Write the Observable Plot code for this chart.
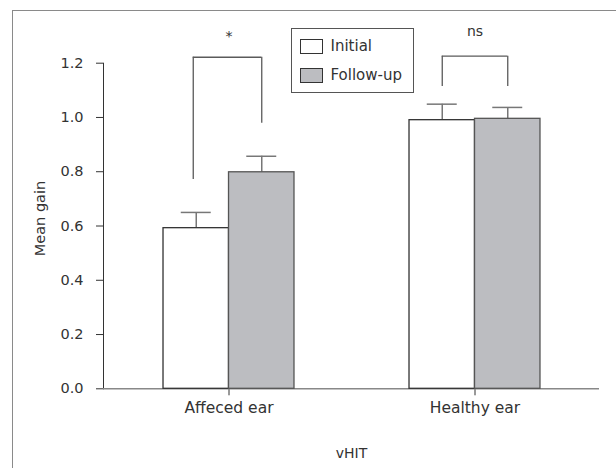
<!DOCTYPE html>
<html>
<head>
<meta charset="utf-8">
<script src="https://cdn.jsdelivr.net/npm/d3@7"></script>
<script src="https://cdn.jsdelivr.net/npm/@observablehq/plot@0.6"></script>
<style>
  html, body { margin: 0; padding: 0; background: #fff; }
  #wrap { position: relative; width: 616px; height: 468px; overflow: hidden; font-family: "DejaVu Sans", sans-serif; color: #333; }
  #frame { position: absolute; left: 12px; top: 10px; right: -2px; bottom: -2px; border-top: 1.5px solid #8a8a8a; border-left: 1.5px solid #8a8a8a; pointer-events: none; }
  #legend { position: absolute; left: 291px; top: 28px; width: 122.5px; height: 65px; box-sizing: border-box; border: 1.5px solid #555; background: #fff; font-size: 15px; color: #333; }
  .item { position: absolute; left: 7.5px; height: 15px; line-height: 15px; display: flex; align-items: center; white-space: nowrap; }
  .sw { width: 23px; height: 15px; border: 1.2px solid #333; margin-right: 8px; box-sizing: border-box; }
  g[aria-label="x-axis tick label"] text { font-size: 15.5px; }
  g[aria-label="y-axis tick label"] text { font-size: 14.5px; }
</style>
</head>
<body>
<div id="wrap"><div id="frame"></div></div>
<script>
// ---- data ----
const groups = ["Affeced ear", "Healthy ear"];
const series = ["Initial", "Follow-up"];
const seriesFill = ["#ffffff", "#bcbdc1"];
const initialMean = [0.592, 0.990];
const initialErr  = [0.058, 0.059];
const followMean  = [0.798, 0.995];
const followErr   = [0.059, 0.042];
const sigLabels   = ["*", "ns"];
const sigLabelY   = [1.300, 1.317];
const bracketTop  = [1.222, 1.226];
const bracketLeftBottom  = [0.771, 1.114];
const bracketRightBottom = [0.979, 1.114];
const yTicks = [0, 0.2, 0.4, 0.6, 0.8, 1.0, 1.2];
const xTitle = "vHIT";
const yTitle = "Mean gain";

// ---- layout ----
const W = 616, H = 468, ml = 103, mr = 17, mt = 62.7, mb = 79.7;
const pi = 0.2, po = 0.107;
const step = (W - ml - mr) / (groups.length - pi + 2 * po);
const bw = step * (1 - pi);
const barW = 65.5, capW = 30;

const initial = groups.map((g, i) => ({group: g, mean: initialMean[i], hi: initialMean[i] + initialErr[i]}));
const follow  = groups.map((g, i) => ({group: g, mean: followMean[i], hi: followMean[i] + followErr[i]}));
const sig = groups.map((g, i) => ({group: g, label: sigLabels[i], ly: sigLabelY[i], top: bracketTop[i], lb: bracketLeftBottom[i], rb: bracketRightBottom[i]}));

const errColor = "#777", barStroke = "#333", brColor = "#5a5a5a";

const plot = Plot.plot({
  width: W, height: H,
  marginLeft: ml, marginRight: mr, marginTop: mt, marginBottom: mb,
  style: {fontFamily: "DejaVu Sans, sans-serif", fontSize: "14px", color: "#333", background: "transparent", overflow: "visible"},
  x: {domain: groups, paddingInner: pi, paddingOuter: po, tickSize: 7, tickPadding: 6, label: null},
  y: {domain: [0, 1.2], ticks: yTicks, tickFormat: d3.format(".1f"), tickSize: 7, tickPadding: 13, line: true, label: null},
  marks: [
    Plot.ruleY([0], {stroke: "#888", strokeWidth: 1.5}),
    // error bars
    Plot.ruleX(initial, {x: "group", y1: "mean", y2: "hi", dx: -barW / 2, stroke: errColor, strokeWidth: 1.5}),
    Plot.tickY(initial, {x: "group", y: "hi", dx: -barW / 2, insetLeft: bw / 2 - capW / 2, insetRight: bw / 2 - capW / 2, stroke: errColor, strokeWidth: 1.5}),
    Plot.ruleX(follow, {x: "group", y1: "mean", y2: "hi", dx: barW / 2, stroke: errColor, strokeWidth: 1.5}),
    Plot.tickY(follow, {x: "group", y: "hi", dx: barW / 2, insetLeft: bw / 2 - capW / 2, insetRight: bw / 2 - capW / 2, stroke: errColor, strokeWidth: 1.5}),
    // bars
    Plot.barY(initial, {x: "group", y: "mean", fill: seriesFill[0], stroke: barStroke, strokeWidth: 1.3, insetLeft: bw / 2 - barW, insetRight: bw / 2}),
    Plot.barY(follow, {x: "group", y: "mean", fill: seriesFill[1], stroke: "#555", strokeWidth: 1.3, insetLeft: bw / 2, insetRight: bw / 2 - barW}),
    // significance brackets
    Plot.ruleX([sig[0]], {x: "group", y1: "lb", y2: "top", dx: -barW / 2 - 3, stroke: brColor, strokeWidth: 1.3}),
    Plot.ruleX([sig[1]], {x: "group", y1: "lb", y2: "top", dx: -barW / 2, stroke: brColor, strokeWidth: 1.3}),
    Plot.ruleX(sig, {x: "group", y1: "rb", y2: "top", dx: barW / 2, stroke: brColor, strokeWidth: 1.3}),
    Plot.tickY([sig[0]], {x: "group", y: "top", insetLeft: bw / 2 - barW / 2 - 3, insetRight: bw / 2 - barW / 2, stroke: brColor, strokeWidth: 1.3}),
    Plot.tickY([sig[1]], {x: "group", y: "top", insetLeft: bw / 2 - barW / 2, insetRight: bw / 2 - barW / 2, stroke: brColor, strokeWidth: 1.3}),
    Plot.text(sig, {x: "group", y: "ly", text: "label", fontSize: 14, fill: "#333"}),
    // axis titles
    Plot.text([yTitle], {frameAnchor: "left", textAnchor: "middle", lineAnchor: "middle", rotate: -90, dx: -63, dy: -7.5, fontSize: 14.5, fill: "#333"}),
    Plot.text([xTitle], {frameAnchor: "bottom", textAnchor: "middle", lineAnchor: "middle", dy: 64.4, fontSize: 14, fill: "#333"})
  ]
});
plot.style.position = "absolute";
plot.style.left = "0px";
plot.style.top = "0px";
const wrap = document.getElementById("wrap");
wrap.insertBefore(plot, wrap.firstChild);

// legend
const legend = document.createElement("div");
legend.id = "legend";
series.forEach((s, i) => {
  const item = document.createElement("div");
  item.className = "item";
  item.style.top = (i === 0 ? 9.5 : 38.8) + "px";
  const sw = document.createElement("span");
  sw.className = "sw";
  sw.style.background = seriesFill[i];
  const t = document.createElement("span");
  t.textContent = s;
  item.appendChild(sw);
  item.appendChild(t);
  legend.appendChild(item);
});
wrap.appendChild(legend);
</script>
</body>
</html>
